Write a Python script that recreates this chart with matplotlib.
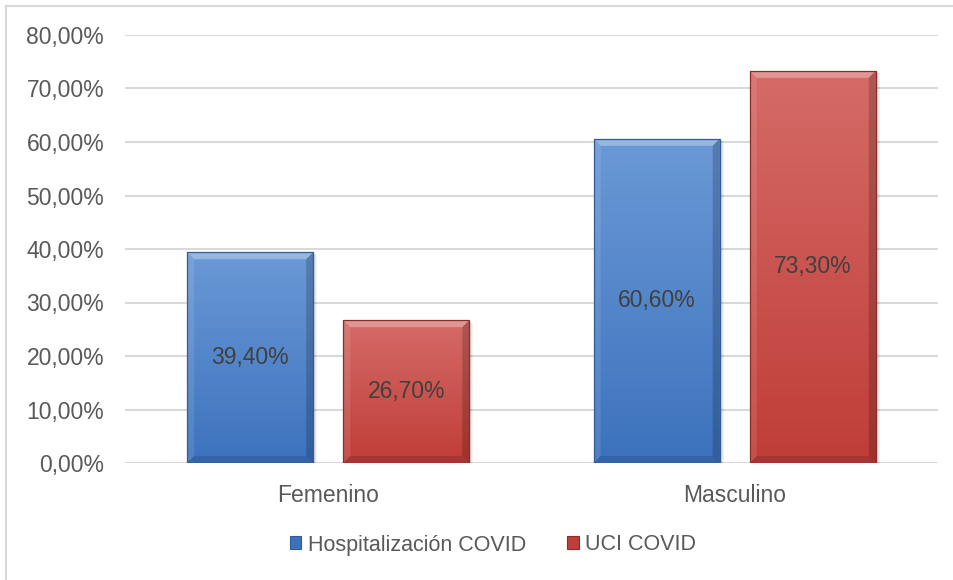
import matplotlib
matplotlib.use("Agg")
import matplotlib.pyplot as plt
import numpy as np
from matplotlib.colors import LinearSegmentedColormap
from matplotlib.lines import Line2D
from matplotlib.patches import Polygon, Rectangle

categories = ["Femenino", "Masculino"]
series_names = ["Hospitalización COVID", "UCI COVID"]
hosp_values = [39.4, 60.6]
uci_values = [26.7, 73.3]
y_ticks = [0, 10, 20, 30, 40, 50, 60, 70, 80]

# top / bottom colours of each series gradient
grad_colors = [("#6b99d6", "#3c72bd"), ("#d56b67", "#c03d38")]
edge_colors = ["#335b94", "#8a2c28"]

plt.rcParams["font.family"] = ["Liberation Sans", "DejaVu Sans"]
text_color = "#595959"

W, H = 954, 580
fig = plt.figure(figsize=(W / 100, H / 100), dpi=100)

# outer chart frame (only top and left visible in the crop)
fig.add_artist(Line2D([6 / W, 6 / W], [0, 1 - 6 / H], color="#d9d9d9", lw=1.5))
fig.add_artist(Line2D([6 / W, 1], [1 - 6 / H, 1 - 6 / H], color="#d9d9d9", lw=1.5))

left, right, top, bottom = 125, 938, 35, 463
ax = fig.add_axes([left / W, 1 - bottom / H, (right - left) / W, (bottom - top) / H])
ax.set_xlim(-0.5, 1.5)
ax.set_ylim(0, 80)

for s in ax.spines.values():
    s.set_visible(False)
ax.set_yticks(y_ticks)
ax.set_yticklabels(["{:.2f}%".format(v).replace(".", ",") for v in y_ticks])
ax.tick_params(length=0, labelsize=16.5, labelcolor=text_color, pad=15)
ax.tick_params(axis="x", pad=15)
ax.set_xticks(range(len(categories)))
ax.set_xticklabels(categories)
ax.grid(axis="y", color="#d9d9d9", lw=1.5)
ax.set_axisbelow(True)

bar_w = 0.31
offsets = [-0.192, 0.192]
px_x = 1.0 / ((right - left) / 2)   # data units per pixel, x
px_y = 80.0 / (bottom - top)        # data units per pixel, y
bev = 7


def draw_bar(x0, h, colors, edge):
    x1 = x0 + bar_w
    # soft shadow
    for k in range(1, 5):
        ax.add_patch(Rectangle((x0 + k * px_x, -k * px_y * 0.6), bar_w, h, facecolor="black",
                               alpha=0.05, lw=0, zorder=2))
    rect = Rectangle((x0, 0), bar_w, h, facecolor="none", edgecolor=edge, lw=0.9, zorder=4)
    ax.add_patch(rect)
    cmap = LinearSegmentedColormap.from_list("g", [colors[1], colors[0]])
    grad = np.linspace(0, 1, 256).reshape(-1, 1)
    im = ax.imshow(grad, cmap=cmap, origin="lower", aspect="auto",
                   extent=(x0, x1, 0, h), zorder=3)
    im.set_clip_path(rect)
    bx, by = bev * px_x, bev * px_y
    # bevel faces
    ax.add_patch(Polygon([(x0, h), (x1, h), (x1 - bx, h - by), (x0 + bx, h - by)],
                         facecolor="white", alpha=0.3, lw=0, zorder=3.5))
    ax.add_patch(Polygon([(x0, 0), (x0, h), (x0 + bx, h - by), (x0 + bx, by)],
                         facecolor="white", alpha=0.1, lw=0, zorder=3.5))
    ax.add_patch(Polygon([(x1, 0), (x1, h), (x1 - bx, h - by), (x1 - bx, by)],
                         facecolor="black", alpha=0.18, lw=0, zorder=3.5))
    ax.add_patch(Polygon([(x0, 0), (x1, 0), (x1 - bx, by), (x0 + bx, by)],
                         facecolor="black", alpha=0.12, lw=0, zorder=3.5))


for si, values in enumerate([hosp_values, uci_values]):
    for ci, v in enumerate(values):
        xc = ci + offsets[si]
        draw_bar(xc - bar_w / 2, v, grad_colors[si], edge_colors[si])
        ax.text(xc, v / 2, "{:.2f}%".format(v).replace(".", ","), ha="center", va="center",
                fontsize=16.5, color="#404040", zorder=5)

# legend
handles = [Rectangle((0, 0), 1, 1, facecolor=grad_colors[i][1], edgecolor=edge_colors[i], lw=0.8)
           for i in range(2)]
fig.legend(handles, series_names, loc="center", bbox_to_anchor=(493 / W, 1 - 545 / H),
           ncol=2, frameon=False, fontsize=15.5, labelcolor=text_color, handlelength=0.55,
           handleheight=0.55, handletextpad=0.3, columnspacing=1.9)

fig.savefig("out.png", dpi=100, facecolor="white")
